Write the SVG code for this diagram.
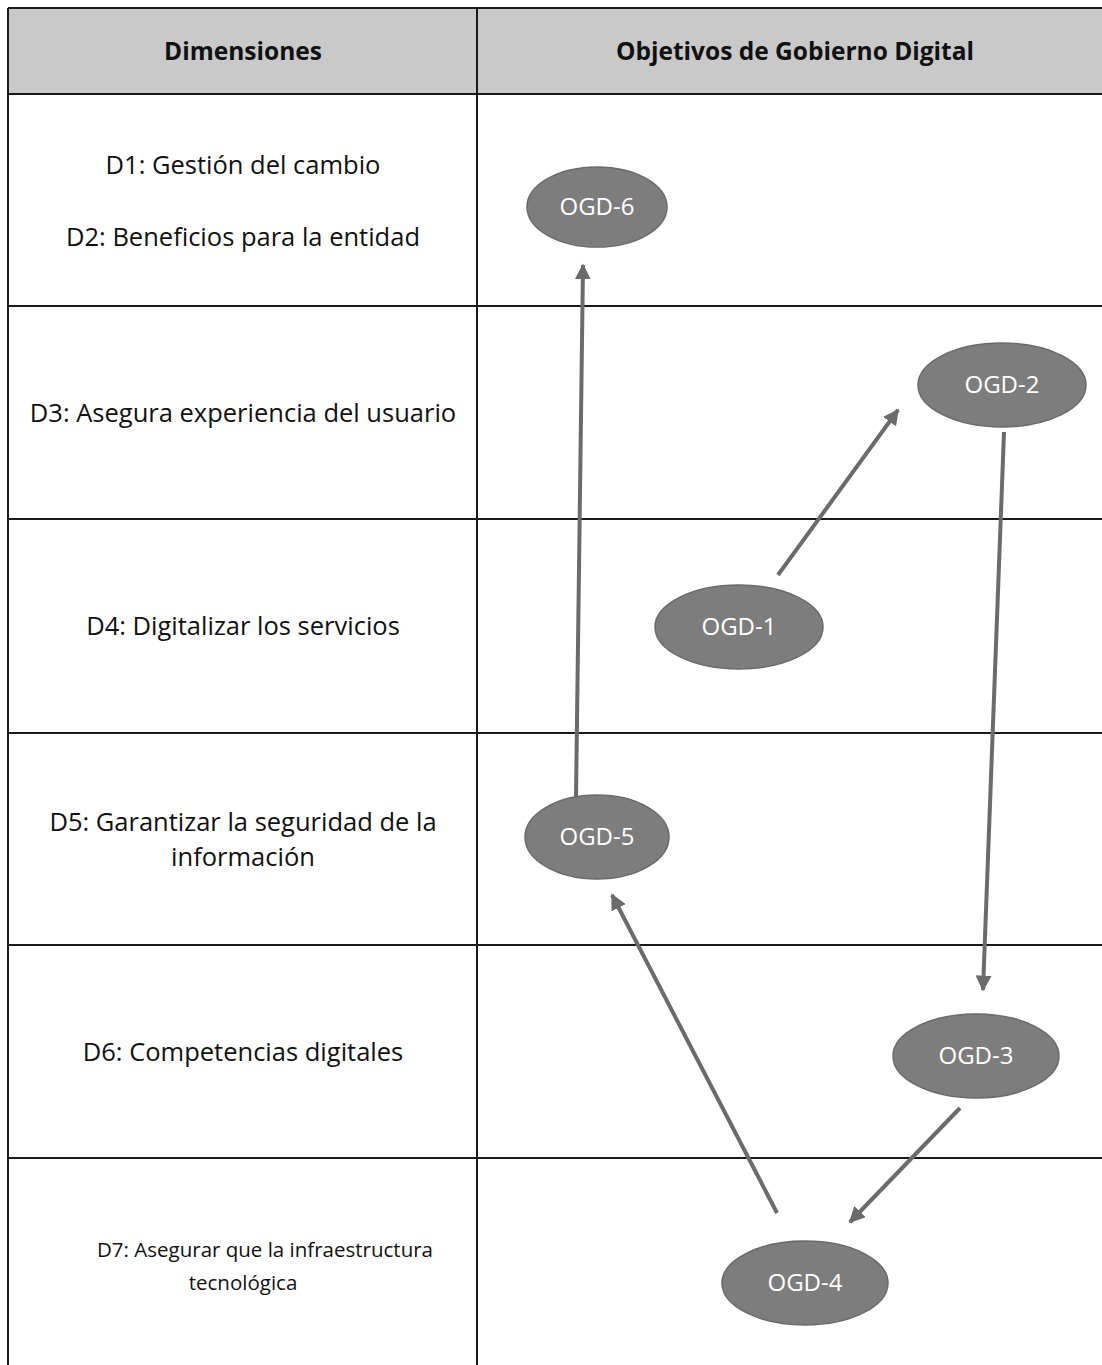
<svg xmlns="http://www.w3.org/2000/svg" width="1102" height="1365" viewBox="0 0 1102 1365">
<defs>
<style>
.grid{stroke:#1a1a1a;stroke-width:2;fill:none}
.dim{font-family:"Open Sans","Liberation Sans",sans-serif;font-size:25.5px;fill:#111;text-anchor:middle}
.hdr{font-family:"Open Sans","Liberation Sans",sans-serif;font-size:24.5px;font-weight:bold;fill:#111;text-anchor:middle}
.node ellipse{fill:#7d7d7d;stroke:#6a6a6a;stroke-width:1.5}
.node text{font-family:"Open Sans","Liberation Sans",sans-serif;font-size:24px;fill:#fff;text-anchor:middle}
.conn line{stroke:#6b6b6b;stroke-width:4;marker-end:url(#ah)}
</style>
<marker id="ah" viewBox="0 0 10 10" refX="9" refY="5" markerWidth="4" markerHeight="4" orient="auto" markerUnits="strokeWidth">
<path d="M0,0 L10,5 L0,10 z" fill="#6b6b6b"/>
</marker>
</defs>
<rect x="0" y="0" width="1102" height="1365" fill="#fff"/>
<g id="table">
<rect x="8" y="8" width="1100" height="86" fill="#c9c9c9"/>
<line class="grid" x1="8" y1="8" x2="1102" y2="8"/>
<line class="grid" x1="8" y1="94" x2="1102" y2="94"/>
<line class="grid" x1="8" y1="306" x2="1102" y2="306"/>
<line class="grid" x1="8" y1="519" x2="1102" y2="519"/>
<line class="grid" x1="8" y1="733" x2="1102" y2="733"/>
<line class="grid" x1="8" y1="945" x2="1102" y2="945"/>
<line class="grid" x1="8" y1="1158" x2="1102" y2="1158"/>
<line class="grid" x1="8" y1="8" x2="8" y2="1365"/>
<line class="grid" x1="477" y1="8" x2="477" y2="1365"/>
<text class="hdr" x="243" y="60">Dimensiones</text>
<text class="hdr" x="795" y="60">Objetivos de Gobierno Digital</text>
<text class="dim" x="243" y="174">D1: Gestión del cambio</text>
<text class="dim" x="243" y="246">D2: Beneficios para la entidad</text>
<text class="dim" x="243" y="422">D3: Asegura experiencia del usuario</text>
<text class="dim" x="243" y="635">D4: Digitalizar los servicios</text>
<text class="dim" x="243" y="831">D5: Garantizar la seguridad de la</text>
<text class="dim" x="243" y="866">información</text>
<text class="dim" x="243" y="1061">D6: Competencias digitales</text>
<text class="dim" x="265" y="1257" style="font-size:20.5px">D7: Asegurar que la infraestructura</text>
<text class="dim" x="243" y="1290" style="font-size:20.5px">tecnológica</text>
</g>
<g id="connectors" class="conn">
<line x1="576" y1="797" x2="583" y2="265"/>
<line x1="778" y1="575" x2="898" y2="410"/>
<line x1="1004" y1="432" x2="983" y2="990"/>
<line x1="960" y1="1108" x2="850" y2="1222"/>
<line x1="777" y1="1213" x2="612" y2="895"/>
</g>
<g id="ogd6" class="node"><ellipse cx="597" cy="207" rx="70" ry="40"/><text x="597" y="215">OGD-6</text></g>
<g id="ogd2" class="node"><ellipse cx="1002" cy="385" rx="84" ry="42"/><text x="1002" y="393">OGD-2</text></g>
<g id="ogd1" class="node"><ellipse cx="739" cy="627" rx="84" ry="42"/><text x="739" y="635">OGD-1</text></g>
<g id="ogd5" class="node"><ellipse cx="597" cy="837" rx="72" ry="42"/><text x="597" y="845">OGD-5</text></g>
<g id="ogd3" class="node"><ellipse cx="976" cy="1056" rx="83" ry="42"/><text x="976" y="1064">OGD-3</text></g>
<g id="ogd4" class="node"><ellipse cx="805" cy="1283" rx="83" ry="42"/><text x="805" y="1291">OGD-4</text></g>
</svg>
